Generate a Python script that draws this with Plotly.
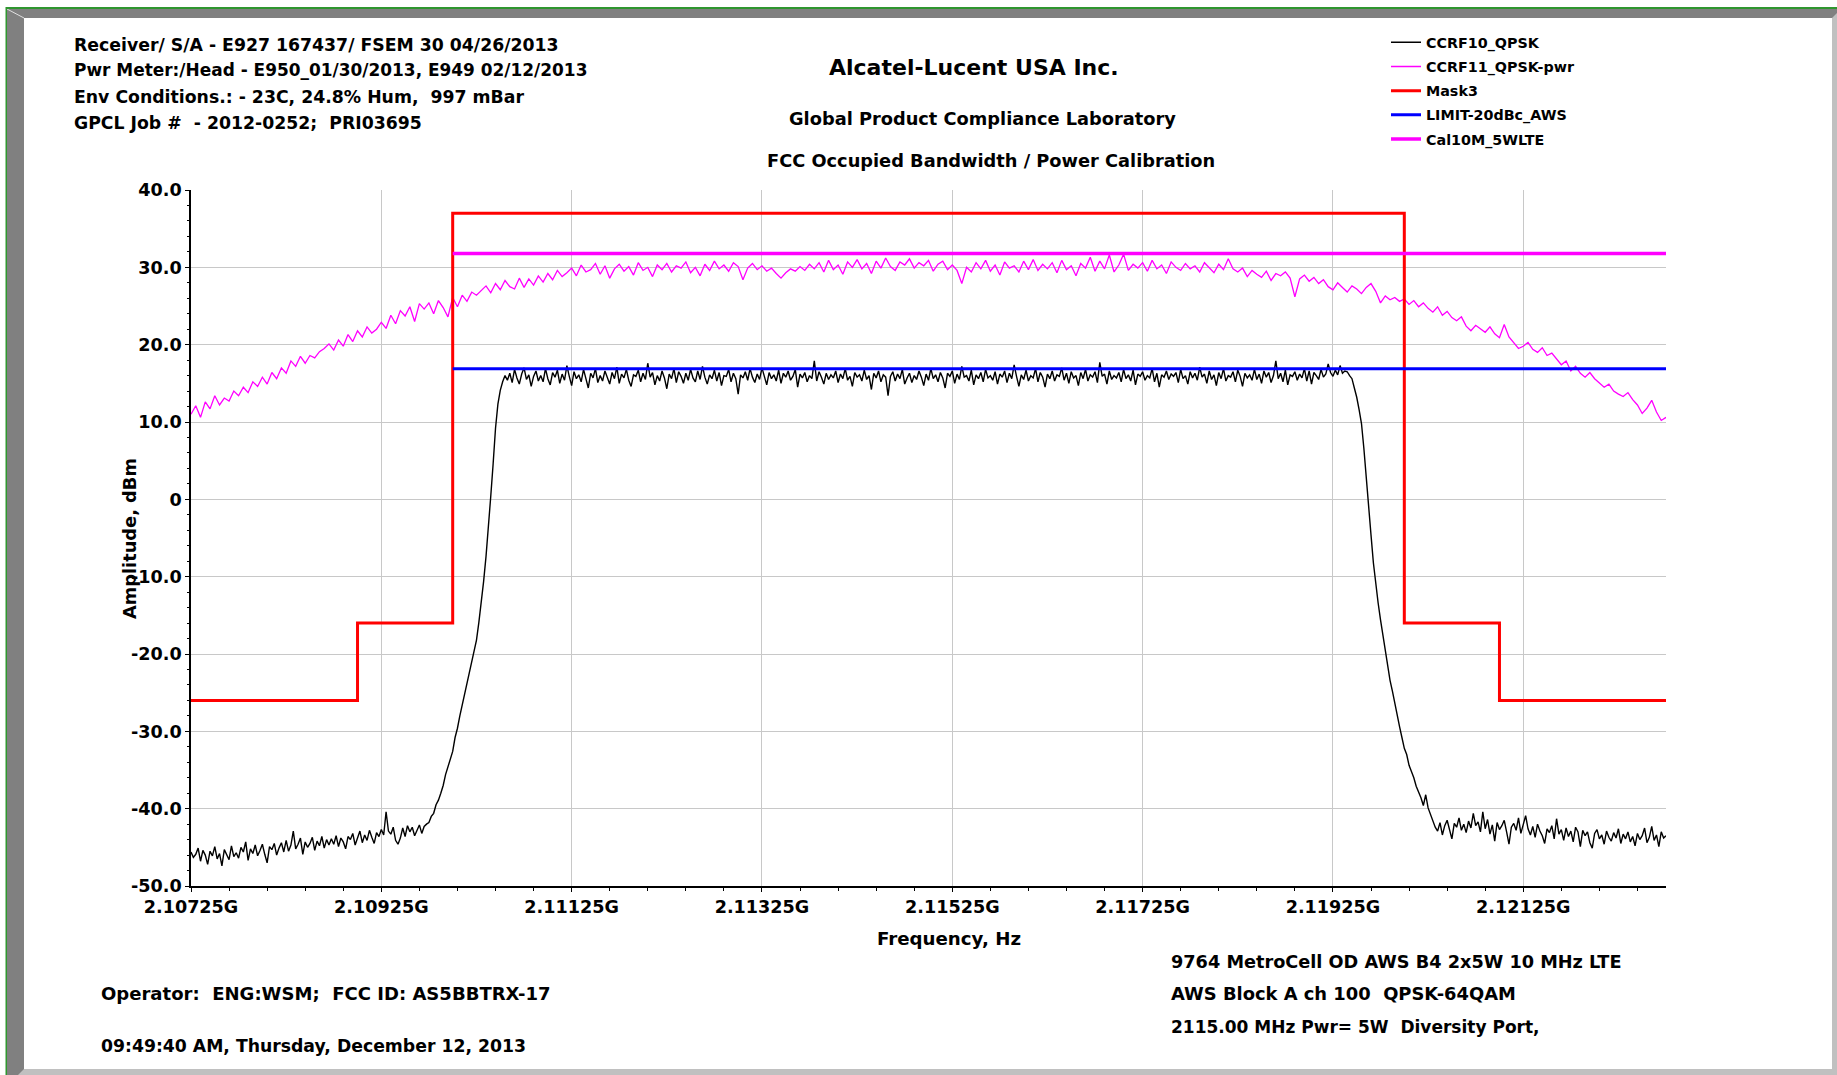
import numpy as np
import plotly.graph_objects as go

# ---------------------------------------------------------------- data
F_START_HZ = 2.10725e9
F_STOP_HZ = 2.12275e9

# CCRF10_QPSK sweep (dBm), equally spaced from F_START_HZ to F_STOP_HZ
CCRF10_QPSK = [
    -45.6, -46.3, -45.9, -45.1, -46.8, -45.4, -46.0, -47.2, -45.5, -46.1, -44.9, -46.5, -45.8, -47.4, -45.3, -45.9, -46.6, -44.8, -46.2, -45.7,
    -46.4, -45.0, -45.6, -44.3, -46.7, -45.2, -45.8, -44.7, -46.1, -45.4, -44.6, -45.9, -47.0, -44.9, -45.3, -44.5, -46.0, -45.1, -44.4, -45.6,
    -44.1, -45.5, -44.7, -42.9, -45.2, -44.6, -43.8, -45.9, -44.3, -45.0, -44.5, -43.7, -45.4, -44.2, -44.8, -43.6, -45.1, -44.0, -44.7, -43.9,
    -44.6, -43.5, -44.9, -43.8, -44.3, -45.2, -43.6, -44.0, -43.2, -44.7, -43.9, -42.9, -44.4, -43.4, -44.1, -42.8, -43.7, -44.5, -43.1, -43.6,
    -42.7, -43.4, -40.4, -42.9, -43.3, -42.4, -44.1, -44.6, -43.8, -42.5, -43.6, -42.2, -43.0, -42.4, -43.5, -42.8, -42.1, -43.2, -42.3, -42.0,
    -41.8, -41.0, -40.6, -39.5, -38.9, -38.0, -37.0, -35.6, -34.6, -33.4, -32.6, -30.8, -29.6, -28.0, -26.6, -25.2, -23.8, -22.5, -21.2, -19.6,
    -18.2, -15.9, -13.4, -10.6, -7.4, -3.8, 0.4, 4.6, 9.2, 12.3, 14.1, 15.2, 16.0,
    15.4, 16.3, 15.1, 16.8, 15.7, 14.9, 16.2, 17.0, 15.5, 16.1, 14.6, 15.9, 16.6, 15.3, 16.0, 15.2, 16.9, 15.6, 14.8, 16.4,
    15.8, 16.7, 15.0, 16.2, 15.4, 17.3, 15.9, 14.7, 16.5, 15.6, 16.1, 15.2, 16.8, 15.5, 14.4, 16.3, 15.7, 16.9, 15.1, 16.0,
    15.3, 16.6, 15.8, 14.9, 16.4, 15.6, 17.1, 15.0, 16.2, 15.7, 16.8, 15.4, 14.6, 16.1, 15.9, 16.7, 15.2, 16.3, 15.5, 17.6,
    15.8, 16.4, 14.8, 16.0, 15.3, 16.6, 15.7, 14.3, 16.2, 15.6, 16.9, 15.1, 16.5, 15.9, 15.0, 16.3, 15.4, 16.8, 15.7, 15.2,
    16.6, 15.5, 17.2, 15.8, 14.9, 16.1, 15.6, 16.7, 15.3, 16.4, 14.7, 16.0, 15.9, 16.8, 15.2, 16.3, 15.6, 13.6, 16.1, 15.7,
    16.5, 15.4, 16.9, 15.8, 15.1, 16.2, 15.5, 17.0, 15.9, 14.8, 16.4, 15.6, 16.1, 15.3, 16.7, 15.0, 16.3, 15.8, 16.6, 15.4,
    15.9, 16.8, 14.5, 16.2, 15.7, 16.4, 15.2, 16.0, 15.6, 17.9, 15.3, 16.5, 15.8, 14.9, 16.3, 15.5, 16.1, 15.7, 16.6, 15.1,
    16.2, 15.6, 16.9, 15.4, 15.9, 14.6, 16.4, 15.8, 16.1, 15.3, 16.7, 15.5, 16.0, 14.2, 16.3, 15.7, 16.6, 15.2, 16.1, 15.8,
    13.4, 15.9, 16.5, 15.3, 16.2, 15.6, 16.8, 14.9, 15.7, 16.3, 15.1, 16.0, 15.5, 16.6, 15.8, 14.7, 16.2, 15.4, 16.9, 15.6,
    16.1, 15.2, 16.4, 15.7, 14.4, 16.3, 15.9, 16.6, 15.0, 16.2, 15.5, 17.2, 15.8, 16.0, 15.3, 16.7, 14.8, 16.1, 15.6, 16.4,
    15.2, 16.8, 15.7, 16.0, 15.4, 16.5, 14.9, 16.2, 15.8, 16.6, 15.1, 16.3, 15.6, 17.4, 15.9, 14.6, 16.1, 15.5, 16.7, 15.3,
    16.0, 15.7, 16.9, 15.2, 16.4, 15.8, 14.5, 16.2, 15.6, 16.6, 15.3, 16.1, 15.9, 17.0, 15.4, 16.3, 15.0, 16.5, 15.7, 16.0,
    14.7, 16.4, 15.6, 16.8, 15.3, 16.1, 15.8, 16.5, 15.1, 17.7, 15.9, 16.2, 14.9, 16.6, 15.5, 16.0, 15.7, 16.4, 15.2, 16.8,
    15.6, 16.1, 15.3, 16.7, 14.8, 16.2, 15.9, 16.5, 15.4, 16.0, 15.7, 16.9, 15.2, 16.3, 14.5, 16.1, 15.8, 16.6, 15.5, 16.2,
    15.9, 16.4, 15.1, 16.8, 15.6, 16.0, 14.9, 16.5, 15.7, 16.3, 15.4, 17.1, 15.8, 16.2, 15.0, 16.6, 15.5, 16.1, 14.7, 16.4,
    15.6, 16.9, 15.3, 16.0, 15.8, 16.5, 15.2, 16.7, 15.9, 14.6, 16.3, 15.7, 16.1, 15.4, 16.8, 15.5, 16.2, 15.0, 16.6, 15.8,
    16.4, 15.1, 16.0, 17.9, 15.6, 16.3, 15.2, 16.7, 14.8, 16.1, 15.9, 16.5, 15.4, 16.2, 15.7, 16.9, 15.3, 16.6, 14.9, 16.4,
    16.0, 15.5, 16.8, 15.8, 16.2, 17.5, 16.4, 15.9, 16.7, 16.1, 17.3, 16.3, 16.6,
    16.5, 16.0, 15.6, 14.4, 13.2, 11.6, 9.8, 6.6, 3.2, -0.8, -4.6, -8.2, -11.0, -13.4, -15.6, -17.6, -19.8, -21.4, -23.4, -24.8,
    -26.5, -27.8, -29.4, -30.8, -32.2, -33.0, -34.4, -35.2, -36.0, -37.1, -37.8, -38.6, -39.6, -38.2, -39.9, -40.8, -41.6, -42.4,
    -42.9, -41.8, -43.4, -42.2, -41.5, -42.7, -43.9, -41.9, -42.4, -41.2, -42.8, -42.0, -43.1, -41.6, -42.5, -40.6, -42.2, -41.7, -43.0, -40.4,
    -42.6, -41.4, -43.3, -42.1, -44.2, -41.8, -42.7, -42.2, -41.5, -43.0, -44.6, -42.4, -41.9, -42.8, -41.2, -43.2, -42.0, -40.9, -42.6, -43.4,
    -42.3, -43.7, -42.0, -42.9, -43.5, -44.5, -42.6, -43.1, -42.2, -43.9, -41.3, -43.3, -42.7, -44.1, -42.5, -43.6, -42.9, -44.3, -42.4, -43.0,
    -44.9, -42.8, -43.5, -43.0, -44.4, -45.1, -43.2, -42.7, -43.9, -43.4, -44.6, -42.9, -43.7, -44.2, -43.1, -43.8, -42.6, -44.5, -43.3, -43.9,
    -43.0, -44.3, -43.6, -44.8, -43.2, -44.0, -43.5, -42.5, -44.4, -43.7, -42.3, -44.1, -43.4, -44.9, -43.0, -43.8, -43.5,
]

# CCRF11_QPSK-pwr sweep (dBm), equally spaced from F_START_HZ to F_STOP_HZ
CCRF11_QPSK_PWR = [
    11.0, 12.1, 10.6, 12.6, 11.7, 13.4, 12.2, 13.1, 12.7, 14.0, 13.4, 14.5, 13.8, 15.2, 14.6, 15.8, 14.9, 16.4, 15.6, 17.0,
    16.3, 17.9, 17.2, 18.5, 17.6, 18.6, 18.3, 19.1, 19.5, 20.1, 19.3, 20.6, 19.8, 21.3, 20.4, 21.8, 21.0, 22.3, 21.5, 22.0,
    22.9, 22.1, 23.8, 22.7, 24.4, 23.7, 24.9, 23.0, 25.3, 24.6, 25.4, 24.0, 25.7, 24.8, 23.6, 26.1, 24.9, 26.4, 25.6, 26.8,
    26.4, 27.0, 27.6, 26.7, 27.9, 27.1, 28.3, 27.5, 27.2, 28.6, 27.4, 28.5, 27.7, 28.9, 28.1, 29.2, 28.4, 29.6, 28.8, 29.3,
    29.9, 28.9, 30.3, 29.4, 29.7, 30.5, 29.1, 30.2, 28.6, 29.8, 30.4, 29.5, 30.1, 29.0, 30.6, 29.6, 30.0, 28.8, 30.3, 29.7,
    30.5, 29.4, 30.2, 29.9, 30.7, 29.3, 30.0, 28.9, 30.4, 29.6, 30.8, 29.8, 30.3, 29.5, 30.6, 30.1, 28.4, 29.9, 30.5, 29.7,
    30.2, 29.5, 29.9, 29.2, 28.6, 29.3, 29.8, 29.5, 30.1, 29.6, 30.4, 29.8, 30.6, 29.4, 30.9, 29.7, 30.3, 29.1, 30.7, 30.0,
    31.0, 29.8, 30.5, 29.2, 30.8, 29.9, 31.2, 30.1, 29.6, 30.7, 30.3, 31.1, 29.9, 30.6, 30.2, 30.9, 29.5, 30.4, 30.8, 29.7,
    30.3, 29.6, 27.9, 30.0, 29.4, 30.6, 29.8, 30.9, 29.5, 30.3, 29.0, 30.7, 29.9, 30.2, 29.4, 30.8, 29.7, 31.0, 29.6, 30.4,
    29.8, 30.6, 29.3, 30.9, 29.7, 30.2, 28.9, 30.5, 29.9, 31.3, 29.5, 30.8, 29.8, 31.6, 29.4, 30.3, 31.7, 29.6, 30.4, 29.9,
    30.6, 29.5, 30.9, 29.8, 30.3, 29.2, 30.7, 30.0, 29.6, 30.5, 29.8, 30.2, 29.4, 30.6, 29.9, 29.3, 30.4, 29.7, 31.1, 29.8,
    29.4, 29.9, 28.8, 29.6, 29.1, 28.7, 29.5, 28.3, 29.2, 28.9, 29.4, 28.6, 26.2, 28.5, 29.0, 28.2, 28.7, 27.9, 28.4, 27.5,
    27.1, 28.0, 27.4, 26.8, 27.6, 27.2, 26.6, 27.4, 27.9, 26.9, 25.4, 26.3, 25.8, 26.1, 25.6, 25.9, 25.2, 25.7, 24.9, 25.4,
    24.7, 24.2, 24.9, 23.8, 24.3, 23.5, 23.1, 23.6, 22.4, 21.8, 22.5, 22.0, 21.6, 22.3, 21.4, 20.9, 22.6, 21.0, 20.2, 19.5,
    19.8, 20.3, 19.4, 19.0, 19.6, 18.6, 18.9, 18.1, 17.4, 17.9, 16.6, 17.2, 16.3, 15.8, 16.4, 15.6, 15.1, 14.5, 14.9, 14.0,
    13.6, 13.3, 13.8, 12.9, 12.2, 11.1, 11.8, 12.8, 11.3, 10.2, 10.6,
]

# Mask3: level (dBm) that applies from each edge frequency to the next
MASK3_EDGES_HZ = [2.10725e9, 2.10900e9, 2.11000e9, 2.12000e9, 2.12100e9, 2.12275e9]
MASK3_LEVELS = [-26.0, -16.0, 37.0, -16.0, -26.0, -26.0]

# horizontal limits
LIMIT_AWS_HZ = [2.11000e9, 2.12275e9]
LIMIT_AWS_DBM = [16.9, 16.9]
CAL10M_HZ = [2.11000e9, 2.12275e9]
CAL10M_DBM = [31.8, 31.8]

X_TICKS_HZ = [2.10725e9, 2.10925e9, 2.11125e9, 2.11325e9, 2.11525e9, 2.11725e9, 2.11925e9, 2.12125e9]
X_TICK_TEXT = ["2.10725G", "2.10925G", "2.11125G", "2.11325G", "2.11525G", "2.11725G", "2.11925G", "2.12125G"]
Y_TICKS = [-50, -40, -30, -20, -10, 0, 10, 20, 30, 40]
Y_TICK_TEXT = ["-50.0", "-40.0", "-30.0", "-20.0", "-10.0", "0", "10.0", "20.0", "30.0", "40.0"]

HEADER_LINES = [
    "Receiver/ S/A - E927 167437/ FSEM 30 04/26/2013",
    "Pwr Meter:/Head - E950_01/30/2013, E949 02/12/2013",
    "Env Conditions.: - 23C, 24.8% Hum,  997 mBar",
    "GPCL Job #  - 2012-0252;  PRI03695",
]
SETUP_LINES = [
    "9764 MetroCell OD AWS B4 2x5W 10 MHz LTE",
    "AWS Block A ch 100  QPSK-64QAM",
    "2115.00 MHz Pwr= 5W  Diversity Port,",
]
OPERATOR_LINE = "Operator:  ENG:WSM;  FCC ID: AS5BBTRX-17"
TIMESTAMP_LINE = "09:49:40 AM, Thursday, December 12, 2013"

# ---------------------------------------------------------------- page geometry
W, H = 1837, 1075
ML, MR, MT, MB = 191, 171, 190, 189
PW = W - ML - MR
PH = H - MT - MB


def px(x):
    """pixel column -> paper x"""
    return (x - ML) / PW


def py(y):
    """pixel row -> paper y"""
    return 1 - (y - MT) / PH


FONT = "DejaVu Sans"
BOLD = dict(family=FONT, color="black", weight="bold")

fig = go.Figure()

f_black = np.linspace(F_START_HZ, F_STOP_HZ, len(CCRF10_QPSK))
f_pwr = np.linspace(F_START_HZ, F_STOP_HZ, len(CCRF11_QPSK_PWR))

fig.add_trace(go.Scatter(x=f_black, y=CCRF10_QPSK, mode="lines", name="CCRF10_QPSK",
                         legendgroup="a", line=dict(color="black", width=1.4)))
fig.add_trace(go.Scatter(x=f_pwr, y=CCRF11_QPSK_PWR, mode="lines", name="CCRF11_QPSK-pwr",
                         legendgroup="b", line=dict(color="#ff00ff", width=1.3)))
fig.add_trace(go.Scatter(x=MASK3_EDGES_HZ, y=MASK3_LEVELS, mode="lines", name="Mask3",
                         legendgroup="c", line=dict(color="#ff0000", width=3, shape="hv")))
fig.add_trace(go.Scatter(x=LIMIT_AWS_HZ, y=LIMIT_AWS_DBM, mode="lines", name="LIMIT-20dBc_AWS",
                         legendgroup="d", line=dict(color="#0000ff", width=3)))
fig.add_trace(go.Scatter(x=CAL10M_HZ, y=CAL10M_DBM, mode="lines", name="Cal10M_5WLTE",
                         legendgroup="e", line=dict(color="#ff00ff", width=3.5)))

GRID = "#c8c8c8"
common_x = dict(range=[F_START_HZ, F_STOP_HZ], tickmode="array", tickvals=X_TICKS_HZ)
common_y = dict(range=[-50, 40], tickmode="array", tickvals=Y_TICKS)

fig.update_layout(
    width=W, height=H, autosize=False,
    margin=dict(l=ML, r=MR, t=MT, b=MB, pad=0),
    paper_bgcolor="white", plot_bgcolor="white",
    font=dict(family=FONT, size=17, color="black"),
    xaxis=dict(**common_x, ticktext=X_TICK_TEXT, showgrid=True, gridcolor=GRID, gridwidth=1,
               zeroline=False, showline=True, linecolor="black", linewidth=1.6,
               ticks="outside", ticklen=4, tickwidth=1.4, tickcolor="black",
               tickfont=dict(size=17.6, **BOLD),
               minor=dict(tickmode="linear", tick0=F_START_HZ, dtick=4e5, ticks="outside",
                          ticklen=3, tickwidth=1.2, tickcolor="black", showgrid=False)),
    yaxis=dict(**common_y, ticktext=Y_TICK_TEXT, showgrid=True, gridcolor=GRID, gridwidth=1,
               zeroline=False, showline=True, linecolor="black", linewidth=1.6,
               ticks="outside", ticklen=4, tickwidth=1.4, tickcolor="black",
               tickfont=dict(size=17.6, **BOLD),
               minor=dict(tickmode="linear", tick0=-50, dtick=2, ticks="outside",
                          ticklen=2, tickwidth=1.2, tickcolor="black", showgrid=False)),
    # second set of axes carries the inner half of the crossing tick marks
    xaxis2=dict(**common_x, overlaying="x", anchor="y", side="bottom", showticklabels=False,
                showgrid=False, zeroline=False, showline=False,
                ticks="inside", ticklen=4, tickwidth=1.4, tickcolor="black",
                minor=dict(tickmode="linear", tick0=F_START_HZ, dtick=4e5, ticks="inside",
                           ticklen=3, tickwidth=1.2, tickcolor="black", showgrid=False)),
    yaxis2=dict(**common_y, overlaying="y", anchor="x", side="left", showticklabels=False,
                showgrid=False, zeroline=False, showline=False,
                ticks="inside", ticklen=6, tickwidth=1.4, tickcolor="black",
                minor=dict(tickmode="linear", tick0=-50, dtick=2, ticks="inside",
                           ticklen=3, tickwidth=1.2, tickcolor="black", showgrid=False)),
    showlegend=True,
    legend=dict(x=px(1386), y=py(26.5), xanchor="left", yanchor="top",
                bgcolor="rgba(0,0,0,0)", borderwidth=0, tracegroupgap=2.6,
                font=dict(size=14.3, **BOLD), itemwidth=30),
)

annotations = []


def text(s, x, y, size=17.8, xanchor="left", angle=0):
    annotations.append(dict(text=s, x=px(x), y=py(y), xref="paper", yref="paper",
                            xanchor=xanchor, yanchor="middle", showarrow=False,
                            textangle=angle, font=dict(size=size, **BOLD)))


for s, y, size in zip(HEADER_LINES, [44.5, 70.5, 97, 123], [17.3, 16.95, 17.3, 17.3]):
    text(s, 72, y, size=size)
text("Alcatel-Lucent USA Inc.", 974, 67, size=22, xanchor="center")
text("Global Product Compliance Laboratory", 982, 118.5, xanchor="center")
text("FCC Occupied Bandwidth / Power Calibration", 991, 160.5, xanchor="center")
text("Frequency, Hz", 949, 938.5, size=18.2, xanchor="center")
text("Amplitude, dBm", 129, 539, xanchor="center", angle=-90)
for s, y, size in zip(SETUP_LINES, [962, 993.5, 1026.5], [17.7, 17.9, 17.0]):
    text(s, 1169, y, size=size)
text(OPERATOR_LINE, 99, 993.5, size=18.05)
text(TIMESTAMP_LINE, 99, 1046, size=17.25)
fig.update_layout(annotations=annotations)

# window frame: green edge, dark upper/left bevel, light lower/right bevel
DARK, LIGHT, GREEN = "#808080", "#c0c0c0", "#2f962f"


def rect(x0, y0, x1, y1, color):
    return dict(type="rect", xref="paper", yref="paper", x0=px(x0), x1=px(x1),
                y0=py(y0), y1=py(y1), fillcolor=color, line=dict(width=0), layer="above")


def poly(points, color):
    d = "M" + " L".join(f"{px(a)},{py(b)}" for a, b in points) + " Z"
    return dict(type="path", xref="paper", yref="paper", path=d, fillcolor=color,
                line=dict(width=0), layer="above")


shapes = [
    rect(7, 9, W, 18, DARK),
    rect(7, 9, 24, H, DARK),
    poly([(W - 5, 18), (W, 13), (W, H), (W - 5, H)], LIGHT),
    poly([(24, H - 6), (W, H - 6), (W, H), (18, H)], LIGHT),
    dict(type="line", xref="paper", yref="paper", x0=px(7), y0=py(9), x1=px(24), y1=py(18),
         line=dict(color="#e0e0e0", width=1), layer="above"),
    rect(6, 7, W, 9, GREEN),
    rect(5.5, 7, 7, H, GREEN),
]
fig.update_layout(shapes=shapes)

fig.write_html("out.html", config={"displayModeBar": False})
